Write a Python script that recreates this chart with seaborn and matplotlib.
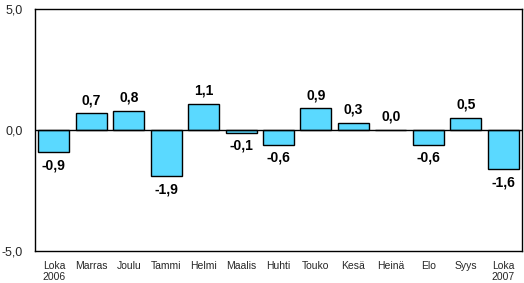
import matplotlib
matplotlib.use("Agg")
import matplotlib.pyplot as plt
import seaborn as sns
import pandas as pd

categories = ["Loka\n2006", "Marras", "Joulu", "Tammi", "Helmi", "Maalis", "Huhti",
              "Touko", "Kesä", "Heinä", "Elo", "Syys", "Loka\n2007"]
values = [-0.9, 0.7, 0.8, -1.9, 1.1, -0.1, -0.6, 0.9, 0.3, 0.0, -0.6, 0.5, -1.6]
yticks = [-5.0, 0.0, 5.0]
ytick_labels = ["-5,0", "0,0", "5,0"]

sns.set_theme(style="white")
plt.rcParams['font.family'] = ['Liberation Sans', 'DejaVu Sans']

df = pd.DataFrame({"cat": categories, "val": values})

fig = plt.figure(figsize=(5.24, 2.83), dpi=100)
ax = fig.add_axes([0.067, 0.113, 0.929, 0.854])

sns.barplot(data=df, x="cat", y="val", color="#5ad9ff", saturation=1,
            edgecolor="black", linewidth=1.0, width=0.83, ax=ax)

labels = [f"{v:.1f}".replace(".", ",") for v in values]
ax.bar_label(ax.containers[0], labels=labels, padding=4.5, fontsize=10,
             fontweight="bold", color="black")

ax.axhline(0, color="black", linewidth=1.0, zorder=3)
ax.set_ylim(-5, 5)
ax.set_xlim(-0.5, len(categories) - 0.5)
ax.set_yticks(yticks)
ax.set_yticklabels(ytick_labels, fontsize=9)
ax.tick_params(axis="x", labelsize=7.5, length=0, pad=7)
ax.tick_params(axis="y", length=0, pad=9)
ax.set_xlabel("")
ax.set_ylabel("")
for s in ax.spines.values():
    s.set_color("black")
    s.set_linewidth(1.0)

fig.savefig("out.png", dpi=100)
